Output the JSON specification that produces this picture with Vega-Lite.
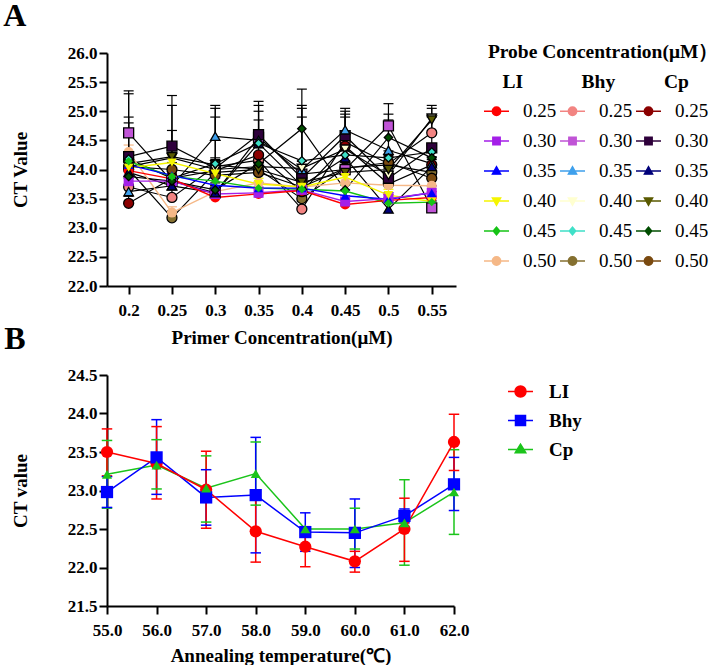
{
  "$schema": "https://vega.github.io/schema/vega-lite/v6.json",
  "background": "white",
  "padding": {"left": 3, "top": 0, "right": 0, "bottom": 0},
  "spacing": -24,
  "resolve": {
    "scale": {"stroke": "independent", "fill": "independent", "shape": "independent", "color": "independent"},
    "legend": {"stroke": "independent", "fill": "independent", "shape": "independent", "color": "independent"}
  },
  "config": {
    "font": "Liberation Serif",
    "view": {"stroke": null},
    "axis": {"domainColor": "#000", "domainWidth": 2, "tickColor": "#000", "tickWidth": 2, "tickSize": 8, "labelColor": "#000", "labelFont": "Liberation Serif", "labelFontSize": 17, "labelFontWeight": "bold", "labelFlush": false, "titleColor": "#000", "titleFont": "Liberation Serif", "titleFontSize": 19, "titleFontWeight": "bold", "grid": false}
  },
  "datasets": {
    "a": [
      {"s":"Bhy 0.25","x":0.2,"y":23.70,"t":23.85},{"s":"Bhy 0.25","x":0.25,"y":23.52,"t":23.65},{"s":"Bhy 0.25","x":0.3,"y":24.05,"t":24.17},{"s":"Bhy 0.25","x":0.35,"y":24.16,"t":24.28},{"s":"Bhy 0.25","x":0.4,"y":23.32,"t":23.45},{"s":"Bhy 0.25","x":0.45,"y":24.47,"t":24.95},{"s":"Bhy 0.25","x":0.5,"y":24.10,"t":24.22},{"s":"Bhy 0.25","x":0.55,"y":24.63,"t":24.95},
      {"s":"Bhy 0.30","x":0.2,"y":24.63,"t":25.35},{"s":"Bhy 0.30","x":0.25,"y":23.80,"t":23.92},{"s":"Bhy 0.30","x":0.3,"y":23.60,"t":23.72},{"s":"Bhy 0.30","x":0.35,"y":24.55,"t":25.10},{"s":"Bhy 0.30","x":0.4,"y":23.92,"t":24.90},{"s":"Bhy 0.30","x":0.45,"y":24.00,"t":24.12},{"s":"Bhy 0.30","x":0.5,"y":24.75,"t":25.13},{"s":"Bhy 0.30","x":0.55,"y":23.34,"t":23.46},
      {"s":"Bhy 0.35","x":0.2,"y":23.62,"t":23.75},{"s":"Bhy 0.35","x":0.25,"y":23.72,"t":23.85},{"s":"Bhy 0.35","x":0.3,"y":24.57,"t":25.10},{"s":"Bhy 0.35","x":0.35,"y":24.50,"t":25.00},{"s":"Bhy 0.35","x":0.4,"y":24.00,"t":25.05},{"s":"Bhy 0.35","x":0.45,"y":24.68,"t":25.05},{"s":"Bhy 0.35","x":0.5,"y":24.33,"t":24.85},{"s":"Bhy 0.35","x":0.55,"y":24.10,"t":24.22},
      {"s":"Bhy 0.40","x":0.2,"y":24.05,"t":24.17},{"s":"Bhy 0.40","x":0.25,"y":24.20,"t":25.27},{"s":"Bhy 0.40","x":0.3,"y":24.00,"t":24.12},{"s":"Bhy 0.40","x":0.35,"y":24.05,"t":24.17},{"s":"Bhy 0.40","x":0.4,"y":24.02,"t":24.14},{"s":"Bhy 0.40","x":0.45,"y":24.35,"t":24.47},{"s":"Bhy 0.40","x":0.5,"y":23.90,"t":24.02},{"s":"Bhy 0.40","x":0.55,"y":24.88,"t":25.10},
      {"s":"Bhy 0.45","x":0.2,"y":24.18,"t":24.90},{"s":"Bhy 0.45","x":0.25,"y":23.85,"t":23.97},{"s":"Bhy 0.45","x":0.3,"y":24.10,"t":24.90},{"s":"Bhy 0.45","x":0.35,"y":24.45,"t":24.85},{"s":"Bhy 0.45","x":0.4,"y":24.15,"t":25.10},{"s":"Bhy 0.45","x":0.45,"y":24.25,"t":24.37},{"s":"Bhy 0.45","x":0.5,"y":24.20,"t":24.32},{"s":"Bhy 0.45","x":0.55,"y":24.30,"t":24.42},
      {"s":"Bhy 0.50","x":0.2,"y":24.00,"t":24.12},{"s":"Bhy 0.50","x":0.25,"y":23.17,"t":23.29},{"s":"Bhy 0.50","x":0.3,"y":23.95,"t":24.07},{"s":"Bhy 0.50","x":0.35,"y":24.00,"t":24.12},{"s":"Bhy 0.50","x":0.4,"y":23.50,"t":23.62},{"s":"Bhy 0.50","x":0.45,"y":24.03,"t":24.15},{"s":"Bhy 0.50","x":0.5,"y":24.08,"t":24.20},{"s":"Bhy 0.50","x":0.55,"y":23.95,"t":24.07},
      {"s":"Cp 0.25","x":0.2,"y":23.42,"t":23.54},{"s":"Cp 0.25","x":0.25,"y":23.85,"t":23.97},{"s":"Cp 0.25","x":0.3,"y":23.98,"t":24.10},{"s":"Cp 0.25","x":0.35,"y":24.25,"t":24.37},{"s":"Cp 0.25","x":0.4,"y":23.62,"t":23.74},{"s":"Cp 0.25","x":0.45,"y":24.40,"t":24.90},{"s":"Cp 0.25","x":0.5,"y":23.75,"t":23.87},{"s":"Cp 0.25","x":0.55,"y":24.08,"t":24.20},
      {"s":"Cp 0.30","x":0.2,"y":24.22,"t":25.30},{"s":"Cp 0.30","x":0.25,"y":24.40,"t":25.10},{"s":"Cp 0.30","x":0.3,"y":24.02,"t":25.05},{"s":"Cp 0.30","x":0.35,"y":24.60,"t":25.17},{"s":"Cp 0.30","x":0.4,"y":23.85,"t":23.97},{"s":"Cp 0.30","x":0.45,"y":24.58,"t":25.00},{"s":"Cp 0.30","x":0.5,"y":23.85,"t":23.97},{"s":"Cp 0.30","x":0.55,"y":24.37,"t":24.90},
      {"s":"Cp 0.35","x":0.2,"y":23.95,"t":24.07},{"s":"Cp 0.35","x":0.25,"y":23.72,"t":23.84},{"s":"Cp 0.35","x":0.3,"y":23.60,"t":23.72},{"s":"Cp 0.35","x":0.35,"y":24.45,"t":24.57},{"s":"Cp 0.35","x":0.4,"y":23.72,"t":23.84},{"s":"Cp 0.35","x":0.45,"y":24.20,"t":24.32},{"s":"Cp 0.35","x":0.5,"y":23.32,"t":23.44},{"s":"Cp 0.35","x":0.55,"y":24.05,"t":24.17},
      {"s":"Cp 0.40","x":0.2,"y":24.10,"t":24.80},{"s":"Cp 0.40","x":0.25,"y":24.22,"t":24.67},{"s":"Cp 0.40","x":0.3,"y":24.08,"t":24.20},{"s":"Cp 0.40","x":0.35,"y":24.00,"t":24.12},{"s":"Cp 0.40","x":0.4,"y":23.78,"t":23.90},{"s":"Cp 0.40","x":0.45,"y":23.95,"t":24.07},{"s":"Cp 0.40","x":0.5,"y":24.00,"t":24.12},{"s":"Cp 0.40","x":0.55,"y":24.85,"t":25.05},
      {"s":"Cp 0.45","x":0.2,"y":23.88,"t":24.00},{"s":"Cp 0.45","x":0.25,"y":23.80,"t":23.92},{"s":"Cp 0.45","x":0.3,"y":23.65,"t":23.77},{"s":"Cp 0.45","x":0.35,"y":24.10,"t":24.22},{"s":"Cp 0.45","x":0.4,"y":24.70,"t":25.38},{"s":"Cp 0.45","x":0.45,"y":23.65,"t":23.77},{"s":"Cp 0.45","x":0.5,"y":24.55,"t":24.95},{"s":"Cp 0.45","x":0.55,"y":24.20,"t":24.32},
      {"s":"Cp 0.50","x":0.2,"y":24.05,"t":24.17},{"s":"Cp 0.50","x":0.25,"y":24.00,"t":24.12},{"s":"Cp 0.50","x":0.3,"y":23.90,"t":24.02},{"s":"Cp 0.50","x":0.35,"y":23.95,"t":24.07},{"s":"Cp 0.50","x":0.4,"y":23.70,"t":23.82},{"s":"Cp 0.50","x":0.45,"y":24.02,"t":24.14},{"s":"Cp 0.50","x":0.5,"y":24.12,"t":24.24},{"s":"Cp 0.50","x":0.55,"y":23.85,"t":23.97},
      {"s":"LI 0.50","x":0.2,"y":24.30,"t":24.42},{"s":"LI 0.50","x":0.25,"y":23.26,"t":23.36},{"s":"LI 0.50","x":0.3,"y":23.62,"t":23.72},{"s":"LI 0.50","x":0.35,"y":23.77,"t":24.05},{"s":"LI 0.50","x":0.4,"y":23.70,"t":23.80},{"s":"LI 0.50","x":0.45,"y":23.77,"t":23.90},{"s":"LI 0.50","x":0.5,"y":23.73,"t":23.90},{"s":"LI 0.50","x":0.55,"y":23.72,"t":23.85},
      {"s":"LI 0.45","x":0.2,"y":24.14,"t":24.24},{"s":"LI 0.45","x":0.25,"y":23.88,"t":23.98},{"s":"LI 0.45","x":0.3,"y":23.80,"t":23.90},{"s":"LI 0.45","x":0.35,"y":23.68,"t":23.78},{"s":"LI 0.45","x":0.4,"y":23.66,"t":23.76},{"s":"LI 0.45","x":0.45,"y":23.63,"t":23.73},{"s":"LI 0.45","x":0.5,"y":23.42,"t":23.52},{"s":"LI 0.45","x":0.55,"y":23.44,"t":23.54},
      {"s":"LI 0.40","x":0.2,"y":24.03,"t":24.13},{"s":"LI 0.40","x":0.25,"y":24.12,"t":24.25},{"s":"LI 0.40","x":0.3,"y":23.93,"t":24.02},{"s":"LI 0.40","x":0.35,"y":23.75,"t":23.85},{"s":"LI 0.40","x":0.4,"y":23.70,"t":24.05},{"s":"LI 0.40","x":0.45,"y":23.87,"t":23.97},{"s":"LI 0.40","x":0.5,"y":23.56,"t":23.66},{"s":"LI 0.40","x":0.55,"y":23.45,"t":23.55},
      {"s":"LI 0.35","x":0.2,"y":24.08,"t":24.18},{"s":"LI 0.35","x":0.25,"y":23.90,"t":24.02},{"s":"LI 0.35","x":0.3,"y":23.73,"t":23.85},{"s":"LI 0.35","x":0.35,"y":23.68,"t":23.92},{"s":"LI 0.35","x":0.4,"y":23.68,"t":23.78},{"s":"LI 0.35","x":0.45,"y":23.55,"t":23.65},{"s":"LI 0.35","x":0.5,"y":23.49,"t":23.60},{"s":"LI 0.35","x":0.55,"y":23.60,"t":23.72},
      {"s":"LI 0.30","x":0.2,"y":23.80,"t":23.90},{"s":"LI 0.30","x":0.25,"y":23.80,"t":23.92},{"s":"LI 0.30","x":0.3,"y":23.58,"t":23.68},{"s":"LI 0.30","x":0.35,"y":23.60,"t":23.70},{"s":"LI 0.30","x":0.4,"y":23.65,"t":23.75},{"s":"LI 0.30","x":0.45,"y":23.45,"t":23.55},{"s":"LI 0.30","x":0.5,"y":23.50,"t":23.60},{"s":"LI 0.30","x":0.55,"y":23.60,"t":23.72},
      {"s":"LI 0.25","x":0.2,"y":23.98,"t":24.08},{"s":"LI 0.25","x":0.25,"y":23.84,"t":23.94},{"s":"LI 0.25","x":0.3,"y":23.52,"t":23.62},{"s":"LI 0.25","x":0.35,"y":23.58,"t":23.68},{"s":"LI 0.25","x":0.4,"y":23.64,"t":23.74},{"s":"LI 0.25","x":0.45,"y":23.40,"t":23.50},{"s":"LI 0.25","x":0.5,"y":23.47,"t":23.57},{"s":"LI 0.25","x":0.55,"y":23.52,"t":23.62}
    ],
    "b": [
      {"p":"Cp","temp":55,"y":23.21,"lo":22.77,"hi":23.65},{"p":"Cp","temp":56,"y":23.33,"lo":23.02,"hi":23.66},{"p":"Cp","temp":57,"y":23.03,"lo":22.59,"hi":23.45},{"p":"Cp","temp":58,"y":23.22,"lo":22.81,"hi":23.63},{"p":"Cp","temp":59,"y":22.50,"lo":22.48,"hi":22.52},{"p":"Cp","temp":60,"y":22.50,"lo":22.24,"hi":22.77},{"p":"Cp","temp":61,"y":22.58,"lo":22.03,"hi":23.14},{"p":"Cp","temp":62,"y":22.98,"lo":22.43,"hi":23.53},
      {"p":"Bhy","temp":55,"y":22.98,"lo":22.78,"hi":23.18},{"p":"Bhy","temp":56,"y":23.43,"lo":22.95,"hi":23.92},{"p":"Bhy","temp":57,"y":22.91,"lo":22.55,"hi":23.27},{"p":"Bhy","temp":58,"y":22.94,"lo":22.19,"hi":23.69},{"p":"Bhy","temp":59,"y":22.46,"lo":22.21,"hi":22.71},{"p":"Bhy","temp":60,"y":22.45,"lo":22.00,"hi":22.89},{"p":"Bhy","temp":61,"y":22.67,"lo":22.58,"hi":22.76},{"p":"Bhy","temp":62,"y":23.08,"lo":22.74,"hi":23.43},
      {"p":"LI","temp":55,"y":23.50,"lo":23.19,"hi":23.80},{"p":"LI","temp":56,"y":23.35,"lo":22.89,"hi":23.83},{"p":"LI","temp":57,"y":23.01,"lo":22.51,"hi":23.51},{"p":"LI","temp":58,"y":22.47,"lo":22.07,"hi":22.88},{"p":"LI","temp":59,"y":22.27,"lo":22.01,"hi":22.53},{"p":"LI","temp":60,"y":22.08,"lo":21.94,"hi":22.21},{"p":"LI","temp":61,"y":22.50,"lo":22.08,"hi":22.90},{"p":"LI","temp":62,"y":23.63,"lo":23.26,"hi":23.99}
    ]
  },
  "vconcat": [
    {
      "data": {"name": "a"},
      "width": 349,
      "height": 233,
      "title": {"text": "A", "anchor": "start", "frame": "bounds", "fontSize": 32, "fontWeight": "bold", "font": "Liberation Serif", "color": "#000", "dx": -8, "offset": 10},
      "encoding": {
        "x": {"field": "x", "type": "quantitative", "scale": {"domain": [0.175, 0.578], "nice": false, "zero": false}, "axis": {"values": [0.2, 0.25, 0.3, 0.35, 0.4, 0.45, 0.5, 0.55], "format": "~g", "title": "Primer Concentration(μM)", "labelPadding": 8, "titlePadding": 10}},
        "y": {"field": "y", "type": "quantitative", "scale": {"domain": [22, 26], "nice": false, "zero": false}, "axis": {"values": [22, 22.5, 23, 23.5, 24, 24.5, 25, 25.5, 26], "format": ".1f", "title": "CT Value", "titlePadding": 37, "labelPadding": 2}},
        "color": {"field": "s", "type": "nominal",
          "scale": {"domain": ["LI 0.25","LI 0.30","LI 0.35","LI 0.40","LI 0.45","LI 0.50","Bhy 0.25","Bhy 0.30","Bhy 0.35","Bhy 0.40","Bhy 0.45","Bhy 0.50","Cp 0.25","Cp 0.30","Cp 0.35","Cp 0.40","Cp 0.45","Cp 0.50"],
                    "range": ["#FF0000","#A41FE8","#0000FF","#F5F500","#16C316","#F5B887","#F28482","#C054D6","#3FA0EC","#FFFFD0","#3FE0C8","#857030","#8B0000","#2E003B","#00007A","#5A5A00","#004D00","#7A4A10"]},
          "legend": {"orient": "none", "legendX": 376, "legendY": -10, "columns": 3, "padding": 0,
            "title": ["\u200b\u00a0Probe Concentration(μM）", "\u200b\u00a0\u00a0\u00a0\u00a0LI\u00a0\u00a0\u00a0\u00a0\u00a0\u00a0\u00a0\u00a0\u00a0\u00a0\u00a0\u00a0Bhy\u00a0\u00a0\u00a0\u00a0\u00a0\u00a0\u00a0\u00a0\u00a0\u00a0Cp"],
            "titleFontSize": 19.5, "titleFontWeight": "bold", "titleFont": "Liberation Serif", "titleColor": "#000", "titleLineHeight": 30, "titlePadding": 5, "titleLimit": 300,
            "labelFont": "Liberation Serif", "labelFontSize": 19, "labelColor": "#000", "labelOffset": 13, "labelExpr": "split(datum.label,' ')[1]",
            "rowPadding": 6, "columnPadding": 0, "symbolSize": 625, "symbolStrokeWidth": 1.3,
            "encode": {"symbols": {"update": {"size": {"value": 625}, "strokeWidth": {"value": 1.3}, "opacity": {"value": 1},
              "fill": {"signal": "{'LI 0.25':'#FF0000','LI 0.30':'#A41FE8','LI 0.35':'#0000FF','LI 0.40':'#F5F500','LI 0.45':'#16C316','LI 0.50':'#F5B887','Bhy 0.25':'#F28482','Bhy 0.30':'#C054D6','Bhy 0.35':'#3FA0EC','Bhy 0.40':'#FFFFD0','Bhy 0.45':'#3FE0C8','Bhy 0.50':'#857030','Cp 0.25':'#8B0000','Cp 0.30':'#2E003B','Cp 0.35':'#00007A','Cp 0.40':'#5A5A00','Cp 0.45':'#004D00','Cp 0.50':'#7A4A10'}[datum.value]"},
              "stroke": {"signal": "{'LI 0.25':'#FF0000','LI 0.30':'#A41FE8','LI 0.35':'#0000FF','LI 0.40':'#F5F500','LI 0.45':'#16C316','LI 0.50':'#F5B887','Bhy 0.25':'#000000','Bhy 0.30':'#000000','Bhy 0.35':'#000000','Bhy 0.40':'#000000','Bhy 0.45':'#000000','Bhy 0.50':'#000000','Cp 0.25':'#000000','Cp 0.30':'#000000','Cp 0.35':'#000000','Cp 0.40':'#000000','Cp 0.45':'#000000','Cp 0.50':'#000000'}[datum.value]"},
              "shape": {"signal": "{'LI 0.25':'M-1,0H-0.34A0.34,0.34,0,0,1,0.34,0H1M0.34,0A0.34,0.34,0,0,1,-0.34,0','Bhy 0.25':'M-1,0H-0.34A0.34,0.34,0,0,1,0.34,0H1M0.34,0A0.34,0.34,0,0,1,-0.34,0','Cp 0.25':'M-1,0H-0.34A0.34,0.34,0,0,1,0.34,0H1M0.34,0A0.34,0.34,0,0,1,-0.34,0','LI 0.50':'M-1,0H-0.34A0.34,0.34,0,0,1,0.34,0H1M0.34,0A0.34,0.34,0,0,1,-0.34,0','Bhy 0.50':'M-1,0H-0.34A0.34,0.34,0,0,1,0.34,0H1M0.34,0A0.34,0.34,0,0,1,-0.34,0','Cp 0.50':'M-1,0H-0.34A0.34,0.34,0,0,1,0.34,0H1M0.34,0A0.34,0.34,0,0,1,-0.34,0','LI 0.30':'M-1,0H-0.3V-0.3H0.3V0H1M0.3,0V0.3H-0.3V0','Bhy 0.30':'M-1,0H-0.3V-0.3H0.3V0H1M0.3,0V0.3H-0.3V0','Cp 0.30':'M-1,0H-0.3V-0.3H0.3V0H1M0.3,0V0.3H-0.3V0','LI 0.35':'M-1,0H-0.2L0,-0.36L0.2,0H1M0.2,0L0.34,0.25H-0.34L-0.2,0','Bhy 0.35':'M-1,0H-0.2L0,-0.36L0.2,0H1M0.2,0L0.34,0.25H-0.34L-0.2,0','Cp 0.35':'M-1,0H-0.2L0,-0.36L0.2,0H1M0.2,0L0.34,0.25H-0.34L-0.2,0','LI 0.40':'M-1,0H-0.2L0,0.36L0.2,0H1M0.2,0L0.34,-0.25H-0.34L-0.2,0','Bhy 0.40':'M-1,0H-0.2L0,0.36L0.2,0H1M0.2,0L0.34,-0.25H-0.34L-0.2,0','Cp 0.40':'M-1,0H-0.2L0,0.36L0.2,0H1M0.2,0L0.34,-0.25H-0.34L-0.2,0','LI 0.45':'M-1,0H-0.26L0,-0.32L0.26,0H1M0.26,0L0,0.32L-0.26,0','Bhy 0.45':'M-1,0H-0.26L0,-0.32L0.26,0H1M0.26,0L0,0.32L-0.26,0','Cp 0.45':'M-1,0H-0.26L0,-0.32L0.26,0H1M0.26,0L0,0.32L-0.26,0'}[datum.value]"}}}}
          }
        }
      },
      "layer": [
        {"transform": [{"filter": "indexof(datum.s, 'LI') >= 0"}],
         "mark": {"type": "rule", "strokeWidth": 1.2},
         "encoding": {"y2": {"field": "t"}}},
        {"transform": [{"filter": "indexof(datum.s, 'LI') >= 0"}],
         "mark": {"type": "point", "shape": "stroke", "size": 100, "strokeWidth": 1.2, "opacity": 1},
         "encoding": {"y": {"field": "t", "type": "quantitative"}}},
        {"transform": [{"filter": "indexof(datum.s, 'LI') < 0"}],
         "mark": {"type": "rule", "strokeWidth": 1.2},
         "encoding": {"y2": {"field": "t"}, "color": {"value": "#000000"}}},
        {"transform": [{"filter": "indexof(datum.s, 'LI') < 0"}],
         "mark": {"type": "point", "shape": "stroke", "size": 100, "strokeWidth": 1.2, "opacity": 1},
         "encoding": {"y": {"field": "t", "type": "quantitative"}, "color": {"value": "#000000"}}},
        {"transform": [{"filter": "indexof(datum.s, 'LI') < 0"}],
         "mark": {"type": "line", "strokeWidth": 1.2},
         "encoding": {"color": {"value": "#000000"}, "detail": {"field": "s", "type": "nominal"}}},
        {"transform": [{"filter": "indexof(datum.s, 'LI') >= 0"}],
         "mark": {"type": "line", "strokeWidth": 1.4}},
        {"transform": [{"filter": "indexof(datum.s, '0.25') >= 0 || indexof(datum.s, '0.50') >= 0"}], "mark": {"type": "point", "shape": "circle", "filled": true, "size": 100, "strokeWidth": 1.3, "opacity": 1},
         "encoding": {"stroke": {"condition": {"test": "indexof(datum.s, 'LI') >= 0", "value": "transparent"}, "value": "#000000"}}},
        {"transform": [{"filter": "indexof(datum.s, '0.30') >= 0"}], "mark": {"type": "point", "shape": "square", "filled": true, "size": 100, "strokeWidth": 1.3, "opacity": 1},
         "encoding": {"stroke": {"condition": {"test": "indexof(datum.s, 'LI') >= 0", "value": "transparent"}, "value": "#000000"}}},
        {"transform": [{"filter": "indexof(datum.s, '0.35') >= 0"}], "mark": {"type": "point", "shape": "triangle-up", "filled": true, "size": 90, "strokeWidth": 1.3, "opacity": 1},
         "encoding": {"stroke": {"condition": {"test": "indexof(datum.s, 'LI') >= 0", "value": "transparent"}, "value": "#000000"}}},
        {"transform": [{"filter": "indexof(datum.s, '0.40') >= 0"}], "mark": {"type": "point", "shape": "triangle-down", "filled": true, "size": 90, "strokeWidth": 1.3, "opacity": 1},
         "encoding": {"stroke": {"condition": {"test": "indexof(datum.s, 'LI') >= 0", "value": "transparent"}, "value": "#000000"}}},
        {"transform": [{"filter": "indexof(datum.s, '0.45') >= 0"}], "mark": {"type": "point", "shape": "diamond", "filled": true, "size": 70, "strokeWidth": 1.3, "opacity": 1},
         "encoding": {"stroke": {"condition": {"test": "indexof(datum.s, 'LI') >= 0", "value": "transparent"}, "value": "#000000"}}}
      ]
    },
    {
      "data": {"name": "b"},
      "width": 347,
      "height": 231,
      "title": {"text": "B", "anchor": "start", "frame": "bounds", "fontSize": 32, "fontWeight": "bold", "font": "Liberation Serif", "color": "#000", "dx": -7, "offset": 10},
      "encoding": {
        "x": {"field": "temp", "type": "quantitative", "scale": {"domain": [55, 62], "nice": false, "zero": false}, "axis": {"values": [55, 56, 57, 58, 59, 60, 61, 62], "format": ".1f", "title": "Annealing temperature(℃)", "labelPadding": 8, "titlePadding": 8}},
        "y": {"field": "y", "type": "quantitative", "scale": {"domain": [21.5, 24.5], "nice": false, "zero": false}, "axis": {"values": [21.5, 22, 22.5, 23, 23.5, 24, 24.5], "format": ".1f", "title": "CT value", "titlePadding": 37, "labelPadding": 2}},
        "color": {"field": "p", "type": "nominal", "scale": {"domain": ["LI", "Bhy", "Cp"], "range": ["#FF0000", "#0000FF", "#1BC41B"]},
          "legend": {"orient": "none", "legendX": 400, "legendY": 3, "title": null, "padding": 0, "labelFont": "Liberation Serif", "labelFontSize": 19, "labelFontWeight": "bold", "labelColor": "#000", "labelOffset": 15, "rowPadding": 5, "symbolSize": 625, "symbolStrokeWidth": 1.5,
            "encode": {"symbols": {"update": {"size": {"value": 625}, "strokeWidth": {"value": 1.5}, "opacity": {"value": 1}, "stroke": {"signal": "{'LI':'#FF0000','Bhy':'#0000FF','Cp':'#1BC41B'}[datum.value]"}, "fill": {"signal": "{'LI':'#FF0000','Bhy':'#0000FF','Cp':'#1BC41B'}[datum.value]"}, "shape": {"signal": "{'LI':'M-1,0H-0.44A0.44,0.44,0,0,1,0.44,0H1M0.44,0A0.44,0.44,0,0,1,-0.44,0','Bhy':'M-1,0H-0.4V-0.4H0.4V0H1M0.4,0V0.4H-0.4V0','Cp':'M-1,0H-0.26L0,-0.42L0.26,0H1M0.26,0L0.42,0.26H-0.42L-0.26,0'}[datum.value]"}}}}
          }
        }
      },
      "layer": [
        {"mark": {"type": "rule", "strokeWidth": 1.5},
         "encoding": {"y": {"field": "lo", "type": "quantitative"}, "y2": {"field": "hi"}}},
        {"mark": {"type": "point", "shape": "stroke", "size": 110, "strokeWidth": 1.5, "opacity": 1},
         "encoding": {"y": {"field": "lo", "type": "quantitative"}}},
        {"mark": {"type": "point", "shape": "stroke", "size": 110, "strokeWidth": 1.5, "opacity": 1},
         "encoding": {"y": {"field": "hi", "type": "quantitative"}}},
        {"mark": {"type": "line", "strokeWidth": 1.5}},
        {"transform": [{"filter": "datum.p == 'LI'"}], "mark": {"type": "point", "shape": "circle", "filled": true, "size": 150, "opacity": 1}},
        {"transform": [{"filter": "datum.p == 'Bhy'"}], "mark": {"type": "point", "shape": "square", "filled": true, "size": 150, "opacity": 1}},
        {"transform": [{"filter": "datum.p == 'Cp'"}], "mark": {"type": "point", "shape": "triangle-up", "filled": true, "size": 100, "opacity": 1}}
      ]
    }
  ]
}
